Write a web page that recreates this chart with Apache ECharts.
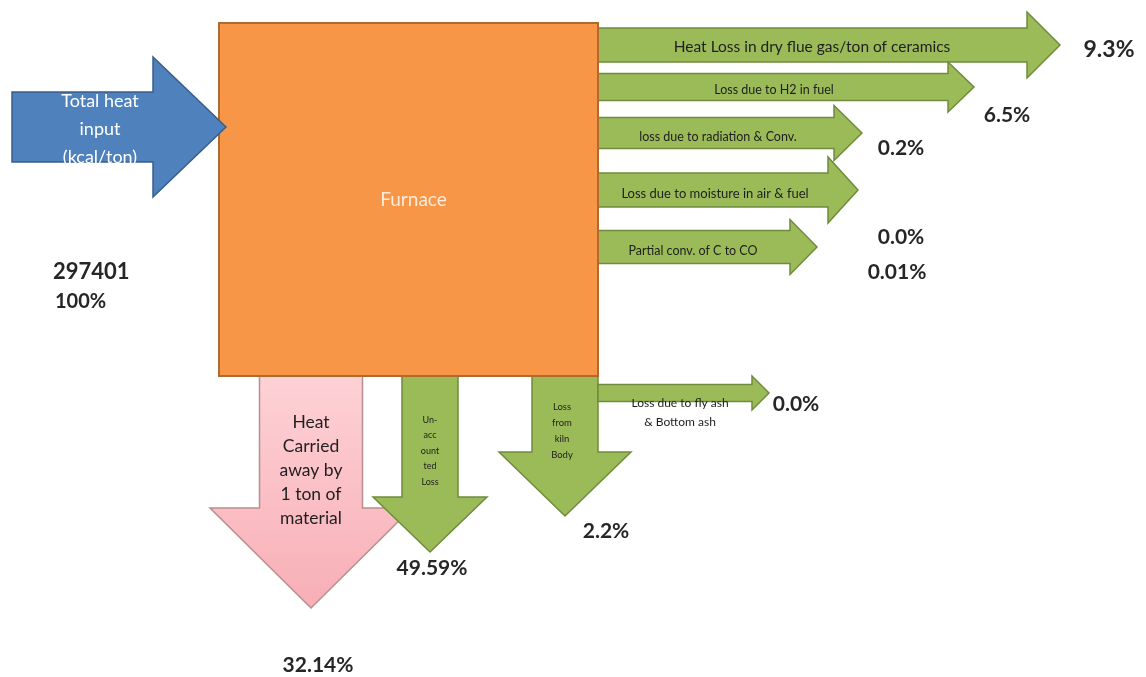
<!DOCTYPE html>
<html>
<head>
<meta charset="utf-8">
<script src="https://cdn.jsdelivr.net/npm/echarts@6/dist/echarts.min.js"></script>
<style>
  html, body { margin: 0; padding: 0; background: #ffffff; }
  #chart { width: 1146px; height: 677px; }
</style>
</head>
<body>
<div id="chart"></div>
<script>
// ---- Heat balance of the kiln (share of total heat input) ----
const inputName = 'Total heat\ninput\n(kcal/ton)';
const totalHeat = 297401;          // kcal/ton
const totalShare = 100;            // %
const furnaceName = 'Furnace';

const lossNames = [
  'Heat Loss in dry flue gas/ton of ceramics',
  'Loss due to H2 in fuel',
  'loss due to radiation & Conv.',
  'Loss due to moisture in air & fuel',
  'Partial conv. of C to CO',
  'Loss due to fly ash\n& Bottom ash',
  'Un-\nacc\nount\nted\nLoss',
  'Loss\nfrom\nkiln\nBody',
  'Heat\nCarried\naway by\n1 ton of\nmaterial'
];
const lossShares = [9.3, 6.5, 0.2, 0.0, 0.01, 0.0, 49.59, 2.2, 32.14];
const shareDecimals = [1, 1, 1, 1, 2, 1, 2, 1, 2];

// ---- Drawing layout (diagram units = pixels of the 1146 x 677 sheet) ----
// dir: arrow direction; x/y: tail centre; end: where the head starts; tip: head point;
// bw/hw: body and head widths; tx/ty: name anchor; lx/ly: share label anchor.
const GREEN = '#9BBB59', GREEN_EDGE = '#6F8C3C';
const lossLayout = [
  { dir: 'right', x: 592, y: 45,  end: 1027, tip: 1060, bw: 34, hw: 66,  tx: 812, ty: 47,  fs: 15.5, lx: 1109, ly: 50,  ls: 23 },
  { dir: 'right', x: 592, y: 87,  end: 948,  tip: 974,  bw: 27, hw: 50,  tx: 774, ty: 90,  fs: 12.5, lx: 1007, ly: 115, ls: 21 },
  { dir: 'right', x: 592, y: 133, end: 834,  tip: 862,  bw: 31, hw: 55,  tx: 718, ty: 137, fs: 12.5, lx: 901,  ly: 148, ls: 21 },
  { dir: 'right', x: 592, y: 190, end: 828,  tip: 858,  bw: 34, hw: 66,  tx: 715, ty: 194, fs: 13,   lx: 901,  ly: 237, ls: 21 },
  { dir: 'right', x: 592, y: 247, end: 790,  tip: 817,  bw: 33, hw: 55,  tx: 693, ty: 251, fs: 12.5, lx: 897,  ly: 272, ls: 21 },
  { dir: 'right', x: 598, y: 393, end: 752,  tip: 769,  bw: 17, hw: 34,  tx: 680, ty: 413, fs: 12, lh: 19, lx: 796, ly: 404, ls: 21 },
  { dir: 'down',  x: 430, y: 368, end: 497,  tip: 552,  bw: 56, hw: 114, tx: 430, ty: 451, fs: 9,  lh: 15.5, lx: 432, ly: 568, ls: 21 },
  { dir: 'down',  x: 565, y: 368, end: 452,  tip: 516,  bw: 66, hw: 132, tx: 562, ty: 431, fs: 9.5, lh: 16,  lx: 606, ly: 531, ls: 21 },
  { dir: 'down',  x: 311, y: 368, end: 508,  tip: 608,  bw: 103, hw: 202, tx: 311, ty: 470, fs: 17.5, lh: 24, lx: 318, ly: 665, ls: 21, pink: true }
];
const inputLayout = { dir: 'right', x: 12, y: 127, end: 153, tip: 226, bw: 70, hw: 140, tx: 100, ty: 129 };
const furnaceLayout = { x0: 219, y0: 23, x1: 598, y1: 376 };

const FONT = 'Lato, "Open Sans", sans-serif';

function arrowOutline(a) {
  if (a.dir === 'right') {
    return [
      [a.x, a.y - a.bw / 2], [a.end, a.y - a.bw / 2], [a.end, a.y - a.hw / 2],
      [a.tip, a.y], [a.end, a.y + a.hw / 2], [a.end, a.y + a.bw / 2], [a.x, a.y + a.bw / 2]
    ];
  }
  return [
    [a.x - a.bw / 2, a.y], [a.x + a.bw / 2, a.y], [a.x + a.bw / 2, a.end],
    [a.x + a.hw / 2, a.end], [a.x, a.tip], [a.x - a.hw / 2, a.end], [a.x - a.bw / 2, a.end]
  ];
}

function arrowElement(api, a, fill, stroke) {
  return {
    type: 'polygon',
    shape: { points: arrowOutline(a).map(p => api.coord(p)) },
    style: { fill: fill, stroke: stroke, lineWidth: 1.5, lineJoin: 'miter' }
  };
}

function textElement(api, x, y, text, o) {
  const p = api.coord([x, y]);
  return {
    type: 'text',
    x: p[0], y: p[1],
    style: {
      text: text, align: o.align || 'center', verticalAlign: 'middle',
      font: (o.weight || 'normal') + ' ' + o.size + 'px ' + FONT,
      fill: o.color || '#222',
      lineHeight: o.lh || Math.round(o.size * 1.25)
    }
  };
}

const pinkFill = new echarts.graphic.LinearGradient(0, 0, 0, 1, [
  { offset: 0, color: '#FDD3D7' },
  { offset: 1, color: '#F8AEB6' }
]);

// drawing order: down arrows and side arrows first, the furnace over their tails, then the input
const downIdx = [8, 6, 7];
const rightIdx = [0, 1, 2, 3, 4, 5];

function lossSeries(indices, z) {
  return {
    type: 'custom',
    coordinateSystem: 'cartesian2d',
    z: z,
    silent: true,
    data: indices.map(i => ({ name: lossNames[i], value: [i, lossShares[i]] })),
    renderItem: function (params, api) {
      const i = api.value(0);
      const a = lossLayout[i];
      const share = api.value(1).toFixed(shareDecimals[i]) + '%';
      const children = [
        a.pink ? arrowElement(api, a, pinkFill, '#B88E8E') : arrowElement(api, a, GREEN, GREEN_EDGE),
        textElement(api, a.tx, a.ty, lossNames[i], { size: a.fs, lh: a.lh, color: '#1E1E1E' }),
        textElement(api, a.lx, a.ly, share, { size: a.ls, weight: 'bold', color: '#262626' })
      ];
      return { type: 'group', children: children };
    }
  };
}

const chart = echarts.init(document.getElementById('chart'), null, { renderer: 'canvas' });
chart.setOption({
  backgroundColor: '#ffffff',
  animation: false,
  grid: { left: 0, right: 0, top: 0, bottom: 0 },
  xAxis: { type: 'value', min: 0, max: 1146, show: false },
  yAxis: { type: 'value', min: 0, max: 677, inverse: true, show: false },
  series: [
    lossSeries(downIdx, 1),
    lossSeries(rightIdx, 1),
    {
      // furnace block with the total input figures beside the inlet arrow
      type: 'custom',
      coordinateSystem: 'cartesian2d',
      z: 2,
      silent: true,
      data: [{ name: furnaceName, value: [totalHeat, totalShare] }],
      renderItem: function (params, api) {
        const f = furnaceLayout;
        const p0 = api.coord([f.x0, f.y0]);
        const p1 = api.coord([f.x1, f.y1]);
        return {
          type: 'group',
          children: [
            {
              type: 'rect',
              shape: { x: p0[0], y: p0[1], width: p1[0] - p0[0], height: p1[1] - p0[1] },
              style: { fill: '#F79646', stroke: '#B06A2E', lineWidth: 2 }
            },
            textElement(api, (f.x0 + f.x1) / 2 + 5, 200, furnaceName, { size: 19, color: '#FDEBDD' }),
            textElement(api, 53, 272, String(api.value(0)), { size: 22, weight: 'bold', color: '#262626', align: 'left' }),
            textElement(api, 55, 302, api.value(1) + '%', { size: 20, weight: 'bold', color: '#262626', align: 'left' })
          ]
        };
      }
    },
    {
      // heat input arrow
      type: 'custom',
      coordinateSystem: 'cartesian2d',
      z: 3,
      silent: true,
      data: [{ name: inputName, value: [totalHeat] }],
      renderItem: function (params, api) {
        const a = inputLayout;
        return {
          type: 'group',
          children: [
            arrowElement(api, a, '#4F81BD', '#385D8A'),
            textElement(api, a.tx, a.ty, inputName, { size: 18, lh: 28, color: '#FFFFFF' })
          ]
        };
      }
    }
  ]
});
</script>
</body>
</html>
